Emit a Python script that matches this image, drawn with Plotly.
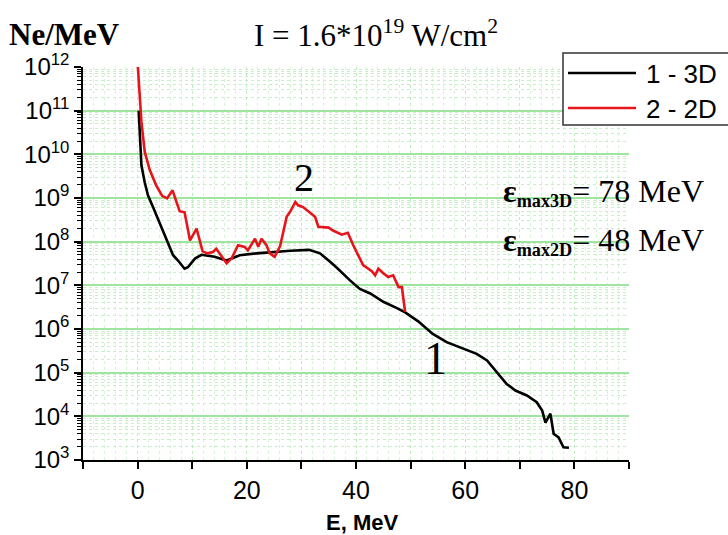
import plotly.graph_objects as go

# ---- data ----
e_3d = [0.2, 0.7, 1.3, 1.9, 2.8, 4.0, 5.3, 6.5, 7.4, 8.6, 9.2, 10.5, 11.7, 14.1, 16.3, 18.7,
        21.8, 24.8, 28.0, 31.4, 33.4, 35.2, 36.4, 38.9, 40.7, 42.6, 45.0, 47.5, 49.0, 51.4,
        54.0, 56.6, 59.1, 60.6, 62.1, 64.0, 66.1, 67.6, 69.2, 71.3, 73.1, 74.1, 74.7, 75.6,
        76.2, 77.1, 78.0, 79.0]
n_3d = [1.0e11, 5.6e9, 2.3e9, 1.15e9, 6.3e8, 2.8e8, 1.2e8, 4.9e7, 3.7e7, 2.4e7, 2.6e7, 4.1e7,
        5.0e7, 4.5e7, 3.7e7, 4.9e7, 5.4e7, 5.8e7, 6.2e7, 6.5e7, 5.4e7, 3.5e7, 2.6e7, 1.3e7,
        8.3e6, 6.5e6, 4.2e6, 3.0e6, 2.4e6, 1.5e6, 7.8e5, 5.0e5, 3.8e5, 3.2e5, 2.7e5, 1.9e5,
        9.3e4, 5.5e4, 3.9e4, 3.0e4, 2.1e4, 1.35e4, 7.2e3, 1.15e4, 4.0e3, 3.3e3, 1.95e3, 1.9e3]

e_2d = [0.05, 0.7, 1.3, 2.2, 3.4, 4.5, 5.4, 6.4, 7.7, 8.6, 9.6, 10.8, 11.9, 12.8, 13.8, 14.4,
        16.3, 17.2, 18.4, 19.6, 20.2, 21.5, 22.1, 22.7, 23.6, 24.2, 25.1, 26.1, 27.3, 28.0,
        28.9, 29.4, 30.3, 31.6, 32.5, 33.1, 35.0, 35.8, 37.4, 38.5, 39.5, 41.3, 42.9, 43.5,
        44.1, 45.0, 45.9, 46.8, 47.8, 48.4, 49.0]
n_2d = [1.0e12, 5.6e10, 1.15e10, 4.5e9, 1.95e9, 1.12e9, 9.8e8, 1.5e9, 5.0e8, 4.7e8, 1.07e8,
        2.0e8, 6.0e7, 5.4e7, 5.8e7, 6.9e7, 3.2e7, 4.1e7, 8.3e7, 7.6e7, 6.3e7, 1.17e8, 7.6e7,
        1.17e8, 8.3e7, 5.4e7, 4.5e7, 7.9e7, 3.7e8, 5.0e8, 8.1e8, 6.8e8, 6.2e8, 4.6e8, 3.7e8,
        2.2e8, 2.1e8, 1.8e8, 1.45e8, 1.6e8, 8.3e7, 2.9e7, 2.1e7, 1.7e7, 2.4e7, 1.9e7, 1.55e7,
        1.7e7, 9.1e6, 9.1e6, 2.45e6]

series_names = ["1 - 3D", "2 - 2D"]
series_colors = ["black", "#e8141b"]

x_ticks = [-10, 0, 10, 20, 30, 40, 50, 60, 70, 80, 90]
x_ticktext = ["", "0", "", "20", "", "40", "", "60", "", "80", ""]
y_exps = [3, 4, 5, 6, 7, 8, 9, 10, 11, 12]

y_tickvals = [10.0 ** k for k in y_exps]
y_ticktext = ["10<sup>%d</sup>" % k for k in y_exps]
y_minor = [m * 10.0 ** k for k in y_exps[:-1] for m in range(2, 10)]

# plot area in pixels
L, R, T, B = 83, 629, 67, 460
PW, PH = R - L, B - T


def px(xp):
    return (xp - L) / PW


def py(yp):
    return (B - yp) / PH


fig = go.Figure()
fig.add_trace(go.Scatter(x=e_3d, y=n_3d, mode="lines", name=series_names[0],
                         line=dict(color=series_colors[0], width=2.6)))
fig.add_trace(go.Scatter(x=e_2d, y=n_2d, mode="lines", name=series_names[1],
                         line=dict(color=series_colors[1], width=2.6)))

fig.update_layout(
    width=728, height=535,
    margin=dict(l=L, r=728 - R, t=T, b=535 - B),
    paper_bgcolor="white", plot_bgcolor="white",
    showlegend=False,
    xaxis=dict(range=[-10, 90], tickmode="array", tickvals=x_ticks, ticktext=x_ticktext,
               ticks="outside", ticklen=7, tickwidth=1.5, tickcolor="black",
               showline=True, linecolor="black", linewidth=1.5,
               showgrid=True, gridcolor="#bfeebf", griddash="dot", gridwidth=1,
               zeroline=False,
               tickfont=dict(family="Liberation Sans, Arial", size=25, color="black"),
               minor=dict(dtick=2, tick0=0, ticks="", showgrid=True, gridcolor="#d4f4d4",
                          griddash="dot", gridwidth=1)),
    yaxis=dict(type="log", range=[3, 12], tickmode="array", tickvals=y_tickvals,
               ticktext=y_ticktext,
               ticks="outside", ticklen=7, tickwidth=1.5, tickcolor="black",
               showline=True, linecolor="black", linewidth=1.5,
               showgrid=True, gridcolor="#9fe59f", gridwidth=1.8,
               zeroline=False,
               tickfont=dict(family="Liberation Sans, Arial", size=24, color="black"),
               minor=dict(tickmode="array", tickvals=y_minor, ticks="outside", ticklen=4,
                          tickcolor="black", tickwidth=1,
                          showgrid=True, gridcolor="#c8efc8", griddash="dot", gridwidth=1)),
)

serif = "Liberation Serif, Times New Roman"
ann = [
    dict(text="<b>Ne/MeV</b>", x=7, y=35, xanchor="left", font=dict(family=serif, size=31)),
    dict(text="I = 1.6*10<sup>19</sup> W/cm<sup>2</sup>", x=376, y=34, xanchor="center",
         font=dict(family=serif, size=31)),
    dict(text="<b>E, MeV</b>", x=362, y=522, xanchor="center",
         font=dict(family="Liberation Sans, Arial", size=22)),
    dict(text="2", x=304, y=177, xanchor="center", font=dict(family=serif, size=40)),
    dict(text="1", x=435, y=358, xanchor="center", font=dict(family=serif, size=46)),
    dict(text="<b>ε<span style='font-size:26px'><sub>max3D</sub></span></b>= 78 MeV",
         x=501, y=192, xanchor="left", font=dict(family=serif, size=32)),
    dict(text="<b>ε<span style='font-size:26px'><sub>max2D</sub></span></b>= 48 MeV",
         x=501, y=241, xanchor="left", font=dict(family=serif, size=32)),
]
for a in ann:
    fig.add_annotation(text=a["text"], xref="paper", yref="paper",
                       x=px(a["x"]), y=py(a["y"]),
                       xanchor=a["xanchor"], yanchor="middle", showarrow=False,
                       font=dict(color="black", **a["font"]))

# legend box drawn by hand (long line samples as in the reference)
fig.add_shape(type="rect", xref="paper", yref="paper",
              x0=px(563), x1=px(740), y0=py(125), y1=py(53),
              line=dict(color="#333333", width=1.5), fillcolor="white", layer="above")
for i, (nm, col) in enumerate(zip(series_names, series_colors)):
    yy = 73 + 35 * i
    fig.add_shape(type="line", xref="paper", yref="paper",
                  x0=px(568), x1=px(636), y0=py(yy), y1=py(yy),
                  line=dict(color=col, width=2.6), layer="above")
    fig.add_annotation(text=nm, xref="paper", yref="paper", x=px(644), y=py(yy + 1),
                       xanchor="left", yanchor="middle", showarrow=False,
                       font=dict(family="Liberation Sans, Arial", size=26, color="black"))

fig.write_html("out.html")
